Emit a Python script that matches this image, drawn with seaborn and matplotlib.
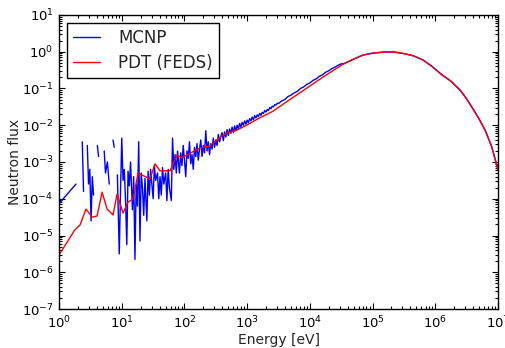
import numpy as np
import pandas as pd
import matplotlib
matplotlib.use('Agg')
import matplotlib.pyplot as plt
import seaborn as sns
from matplotlib.lines import Line2D
from matplotlib.ticker import LogLocator, NullFormatter

# values, as log10(energy [eV]) and log10(flux)
# NaN marks empty tallies (gaps in the MCNP curve)
mcnp_log_e = [
    0.00, 0.27, 0.31,
    0.37, 0.39, 0.41,
    0.45, 0.47, 0.49, 0.51, 0.53, 0.55, 0.58,
    0.61, 0.63, 0.66,
    0.72, 0.74, 0.77, 0.80, 0.82,
    0.86, 0.88, 0.90,
    0.93, 0.96, 0.98, 1.00, 1.02, 1.04, 1.06, 1.08, 1.10, 1.12, 1.14, 1.17,
    1.19, 1.21, 1.23, 1.25, 1.27, 1.29, 1.31, 1.33, 1.35, 1.37, 1.40, 1.42,
    1.44, 1.46, 1.48, 1.50, 1.52, 1.54, 1.57, 1.59, 1.61, 1.63, 1.65, 1.67,
    1.70, 1.72, 1.74, 1.76, 1.79, 1.81, 1.83, 1.85, 1.87, 1.89,
    1.92, 1.94, 1.96, 1.98, 2.00, 2.02, 2.04, 2.06, 2.08, 2.10,
    2.12, 2.14, 2.16, 2.18, 2.20, 2.22, 2.24, 2.26, 2.28, 2.30,
    2.32, 2.34, 2.36, 2.38, 2.40, 2.42, 2.44, 2.46, 2.48, 2.50,
    2.52, 2.54, 2.56, 2.58, 2.60, 2.62, 2.64, 2.66, 2.68, 2.70,
    2.72, 2.74, 2.76, 2.78, 2.80, 2.82, 2.84, 2.86, 2.88, 2.90,
    2.92, 2.94, 2.96, 2.98, 3.00, 3.02, 3.04, 3.06, 3.08, 3.10,
    3.12, 3.14, 3.16, 3.18, 3.20, 3.22, 3.24, 3.26, 3.28, 3.30,
    3.32, 3.34, 3.36, 3.38, 3.40, 3.42, 3.44, 3.46, 3.48, 3.50,
    3.55, 3.60, 3.65, 3.70, 3.75, 3.80, 3.85, 3.90, 3.95, 4.00,
    4.05, 4.10, 4.15, 4.20, 4.25, 4.30, 4.35, 4.40, 4.45, 4.50,
]
mcnp_log_flux = [
    -4.13, -3.60, np.nan,
    -2.45, -3.80, np.nan,
    -2.55, -3.60, -3.20, -4.60, -3.40, -3.90, np.nan,
    -2.55, -2.85, np.nan,
    -2.70, -3.30, -3.00, -3.60, np.nan,
    -2.40, -2.60, np.nan,
    -3.35, -5.50, -3.80, -2.35, -3.50, -3.20, -4.05, -5.25, -3.25, -3.65, -3.00, -4.30,
    -3.40, -5.65, -3.60, -4.20, -2.45, -5.15, -3.30, -3.70, -4.45, -3.45, -4.60, -3.25,
    -3.90, -3.20, -3.60, -4.00, -3.10, -3.50, -3.30, -4.00, -3.40, -3.90, -3.15, -3.60,
    -3.30, -4.05, -3.20, -3.70, -4.05, -2.35, -3.20, -2.80, -3.30, -2.70,
    -3.30, -2.75, -3.10, -2.55, -2.95, -3.40, -2.70, -2.90, -2.45, -3.05,
    -2.80, -3.20, -2.60, -2.85, -2.50, -2.95, -2.65, -2.40, -2.85, -2.55,
    -2.75, -2.15, -2.70, -2.45, -2.80, -2.50, -2.65, -2.35, -2.60, -2.40,
    -2.55, -2.25, -2.45, -2.30, -2.20, -2.42, -2.18, -2.32, -2.12, -2.28,
    -2.10, -2.22, -2.05, -2.20, -2.02, -2.15, -2.00, -2.10, -1.95, -2.06,
    -1.92, -2.00, -1.88, -1.97, -1.86, -1.93, -1.82, -1.88, -1.78, -1.85,
    -1.74, -1.80, -1.72, -1.76, -1.68, -1.73, -1.65, -1.68, -1.60, -1.64,
    -1.57, -1.60, -1.52, -1.55, -1.48, -1.50, -1.44, -1.45, -1.40, -1.41,
    -1.34, -1.30, -1.22, -1.18, -1.12, -1.08, -1.00, -0.96, -0.89, -0.85,
    -0.78, -0.74, -0.67, -0.63, -0.56, -0.52, -0.46, -0.42, -0.37, -0.33,
]

pdt_log_e = [
    0.00, 0.25, 0.335, 0.43, 0.526, 0.606, 0.686, 0.766, 0.861, 0.925,
    1.02, 1.10, 1.18, 1.26, 1.45, 1.53, 1.61, 1.77, 1.88, 1.96,
    2.09, 2.25, 2.41, 2.57, 2.68, 2.84, 3.00, 3.20, 3.41, 3.70,
    3.96, 4.20, 4.40, 4.55, 4.70, 4.85, 5.00, 5.20, 5.35, 5.50,
    5.65, 5.80, 5.95, 6.10, 6.25, 6.40, 6.50, 6.60, 6.70, 6.80,
    6.90, 7.00,
]
pdt_log_flux = [
    -5.53, -4.85, -4.71, -4.28, -4.50, -4.47, -3.82, -4.28, -4.44, -3.87,
    -4.39, -4.09, -4.01, -3.30, -3.46, -3.05, -3.24, -3.24, -2.81, -2.89,
    -2.76, -2.62, -2.56, -2.32, -2.21, -2.13, -1.99, -1.80, -1.62, -1.28,
    -0.98, -0.70, -0.48, -0.32, -0.20, -0.09, -0.04, -0.005, -0.01, -0.05,
    -0.11, -0.22, -0.40, -0.62, -0.80, -1.05, -1.28, -1.55, -1.83, -2.15,
    -2.58, -3.20,
]

sns.set_style('ticks')
plt.rcParams['font.family'] = ['DejaVu Sans']
plt.rcParams['mathtext.default'] = 'regular'

# MCNP tallies: split at the empty bins so the line breaks there,
# above 10^4.5 eV the two curves lie on top of each other
mcnp = pd.DataFrame({'log_e': mcnp_log_e, 'log_flux': mcnp_log_flux})
tail = pd.DataFrame({'log_e': pdt_log_e, 'log_flux': pdt_log_flux})
mcnp = pd.concat([mcnp, tail[tail['log_e'] >= 4.55]], ignore_index=True)
mcnp['segment'] = mcnp['log_flux'].isna().cumsum()
mcnp = mcnp.dropna()
mcnp['energy'] = 10.0 ** mcnp['log_e']
mcnp['flux'] = 10.0 ** mcnp['log_flux']

pdt = pd.DataFrame({'energy': 10.0 ** np.array(pdt_log_e),
                    'flux': 10.0 ** np.array(pdt_log_flux)})

fig = plt.figure(figsize=(5.05, 3.48), dpi=100)
ax = fig.add_axes([0.117, 0.112, 0.869, 0.845])

sns.lineplot(data=mcnp, x='energy', y='flux', units='segment', estimator=None,
             color='blue', lw=1.0, ax=ax, legend=False, sort=False)
sns.lineplot(data=pdt, x='energy', y='flux', color='red', lw=1.0, ax=ax,
             legend=False, sort=False)

ax.set_xscale('log')
ax.set_yscale('log')
ax.set_xlim(1, 1e7)
ax.set_ylim(1e-7, 10)
ax.set_xticks(10.0 ** np.arange(0, 8))
ax.set_yticks(10.0 ** np.arange(-7, 2))
ax.xaxis.set_minor_locator(LogLocator(base=10, subs=np.arange(2, 10), numticks=20))
ax.yaxis.set_minor_locator(LogLocator(base=10, subs=np.arange(2, 10), numticks=20))
ax.xaxis.set_minor_formatter(NullFormatter())
ax.yaxis.set_minor_formatter(NullFormatter())
ax.set_xlim(1, 1e7)
ax.set_ylim(1e-7, 10)
ax.tick_params(which='both', direction='in', top=True, right=True,
               colors='black', labelsize=9.5, width=0.8)
ax.tick_params(which='major', length=4, pad=4)
ax.tick_params(which='minor', length=2)
for s in ax.spines.values():
    s.set_color('black')
    s.set_linewidth(1.0)

ax.set_xlabel('Energy [eV]', fontsize=10)
ax.set_ylabel('Neutron flux', fontsize=10)
ax.xaxis.set_label_coords(0.5, -0.08)
ax.yaxis.set_label_coords(-0.100, 0.5)
ax.xaxis.label.set_va('top')
ax.yaxis.label.set_va('center')

handles = [Line2D([], [], color='blue', lw=1.0), Line2D([], [], color='red', lw=1.0)]
leg = ax.legend(handles, ['MCNP', 'PDT (FEDS)'], loc='upper left', fontsize=12,
                frameon=True, fancybox=False, handlelength=1.6, handletextpad=1.1,
                borderpad=0.35, labelspacing=0.4, borderaxespad=0.5)
leg.get_frame().set_edgecolor('black')
leg.get_frame().set_linewidth(1.0)
leg.get_frame().set_alpha(1.0)

fig.savefig('out.png', dpi=100)
